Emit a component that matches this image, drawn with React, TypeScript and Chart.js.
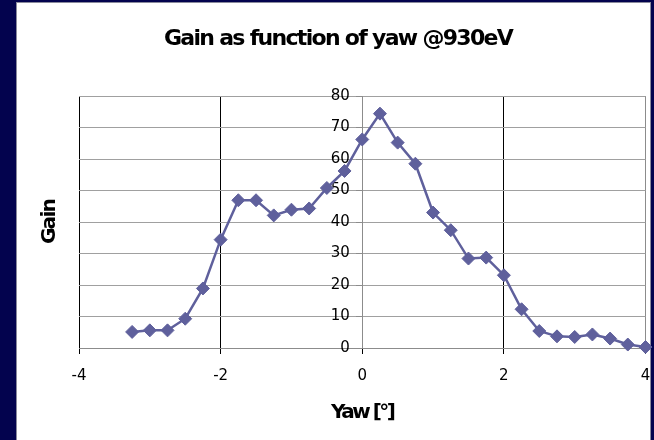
import React, { useEffect, useRef } from "react";
import { Chart, registerables } from "chart.js";

Chart.register(...registerables);

const yawValues = [
  -3.25, -3, -2.75, -2.5, -2.25, -2, -1.75, -1.5, -1.25, -1, -0.75, -0.5, -0.25, 0,
  0.25, 0.5, 0.75, 1, 1.25, 1.5, 1.75, 2, 2.25, 2.5, 2.75, 3, 3.25, 3.5, 3.75, 4,
];
const gainValues = [
  5.1, 5.6, 5.6, 9.3, 18.9, 34.4, 46.9, 46.9, 42.1, 43.9, 44.3, 50.8, 56.2, 66.2,
  74.4, 65.2, 58.5, 43.0, 37.4, 28.4, 28.7, 23.1, 12.3, 5.4, 3.7, 3.5, 4.3, 3.0, 1.1, 0.3,
];
const xTickValues = [-4, -2, 0, 2, 4];
const yTickValues = [0, 10, 20, 30, 40, 50, 60, 70, 80];
const chartTitle = "Gain as function of yaw @930eV";
const xAxisTitle = "Yaw [°]";
const yAxisTitle = "Gain";

const SERIES_COLOR = "#5f609c";

export default function App() {
  const canvasRef = useRef<HTMLCanvasElement | null>(null);

  useEffect(() => {
    const canvas = canvasRef.current;
    if (!canvas) return;

    const textPlugin = {
      id: "customTexts",
      afterDraw(chart: any) {
        const ctx = chart.ctx as CanvasRenderingContext2D;
        const area = chart.chartArea;
        ctx.save();
        ctx.fillStyle = "#000";
        ctx.textAlign = "center";
        ctx.textBaseline = "alphabetic";
        ctx.font = 'bold 22px "DejaVu Sans"';
        (ctx as any).letterSpacing = "-1.7px";
        ctx.fillText(chartTitle, 321, 42);
        ctx.font = 'bold 20px "DejaVu Sans"';
        (ctx as any).letterSpacing = "-2.5px";
        ctx.fillText(xAxisTitle, (area.left + area.right) / 2, 415);
        ctx.translate(38, 219);
        ctx.rotate(-Math.PI / 2);
        ctx.font = 'bold 20px "DejaVu Sans"';
        (ctx as any).letterSpacing = "-1.7px";
        ctx.fillText(yAxisTitle, 0, 0);
        ctx.restore();
      },
    };

    const chart = new Chart(canvas, {
      type: "scatter",
      data: {
        datasets: [
          {
            data: yawValues.map((x, i) => ({ x, y: gainValues[i] })),
            showLine: true,
            borderColor: SERIES_COLOR,
            backgroundColor: SERIES_COLOR,
            borderWidth: 2.5,
            pointStyle: "rectRot",
            pointRadius: 6.5,
            pointBorderWidth: 1,
            pointBorderColor: SERIES_COLOR,
            pointBackgroundColor: SERIES_COLOR,
            clip: false as any,
          },
        ],
      },
      options: {
        responsive: false,
        animation: false,
        devicePixelRatio: 1,
        layout: { padding: { left: 62, right: 2, top: 93, bottom: 42 } },
        plugins: {
          legend: { display: false },
          tooltip: { enabled: false },
          title: { display: false },
        },
        scales: {
          x: {
            type: "linear",
            min: -4,
            max: 4,
            afterBuildTicks: (scale: any) => {
              scale.ticks = xTickValues.map((v) => ({ value: v }));
            },
            afterFit: (scale: any) => {
              scale.paddingLeft = 0;
              scale.paddingRight = 0;
            },
            ticks: {
              color: "#000",
              font: { family: '"DejaVu Sans"', size: 15 },
              padding: 13,
              maxRotation: 0,
              callback: (v: any) => String(v),
            },
            grid: {
              color: (c: any) =>
                c.tick && (c.tick.value === 0 || c.tick.value === 4) ? "#8c8c8c" : "#000",
              tickColor: "#000",
              tickLength: 6,
              lineWidth: 1,
            },
            border: { color: "#8c8c8c", width: 1 },
          },
          y: {
            type: "linear",
            min: 0,
            max: 80,
            position: { x: 0 } as any,
            afterBuildTicks: (scale: any) => {
              scale.ticks = yTickValues.map((v) => ({ value: v }));
            },
            afterFit: (scale: any) => {
              scale.paddingTop = 0;
              scale.paddingBottom = 0;
            },
            ticks: {
              color: "#000",
              font: { family: '"DejaVu Sans"', size: 15 },
              padding: 6,
              callback: (v: any) => String(v) + "  \u2009",
            },
            grid: {
              color: "#a0a0a0",
              tickColor: "#8c8c8c",
              tickLength: 6,
              lineWidth: 1,
            },
            border: { color: "#8c8c8c", width: 1 },
          },
        },
      },
      plugins: [textPlugin],
    });

    return () => chart.destroy();
  }, []);

  return (
    <div
      style={{
        position: "fixed",
        inset: 0,
        background: "#03034e",
      }}
    >
      <div
        style={{
          position: "absolute",
          left: 16,
          top: 2,
          width: 633,
          height: 438,
          background: "#fff",
          borderLeft: "1px solid #8a8a9c",
          borderTop: "1px solid #8a8a9c",
          borderRight: "1px solid #8a8a9c",
        }}
      >
        <canvas
          ref={canvasRef}
          width={636}
          height={437}
          style={{ display: "block", width: 636, height: 437, position: "relative" }}
        />
      </div>
    </div>
  );
}
